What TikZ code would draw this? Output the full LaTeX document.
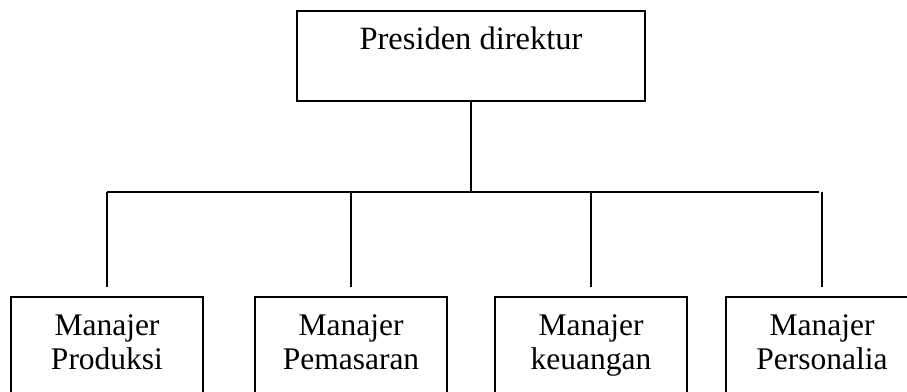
\documentclass[tikz,border=0pt]{standalone}
\usepackage{fontspec}
\setmainfont{Liberation Serif}
\usepackage{tikz}

\begin{document}
\begin{tikzpicture}[x=1pt, y=1pt, line width=1.3pt,
                    topbox/.style={draw, inner sep=0pt, anchor=base, minimum width=348pt,
                      text height=39pt, text depth=51pt, font=\fontsize{32.5}{36}\selectfont},
                    mgr/.style={draw, inner sep=0pt, anchor=base, align=center, minimum width=192pt,
                      text height=72pt, text depth=31pt, font=\fontsize{31.5}{34}\selectfont}]
      \path[use as bounding box, clip] (0,0) rectangle (907,391);
      \node[topbox] (presdir) at (471,341) {Presiden direktur};
      \coordinate (busL) at (107,199);
      \coordinate (busR) at (819,199);
      \draw (presdir.south) -- (presdir.south |- busL);
      \draw (busL) -- (busR);
      \foreach \name/\cx/\txt in {prod/107/{Manajer\\Produksi}, pemas/351/{Manajer\\Pemasaran},
                                  keu/591/{Manajer\\keuangan}, pers/822/{Manajer\\Personalia}}{
        \node[mgr] (\name) at (\cx,22) {\txt};
        \draw[shorten >=9pt] (\name |- busL) -- (\name.north);
      }
    \end{tikzpicture}
\end{document}
